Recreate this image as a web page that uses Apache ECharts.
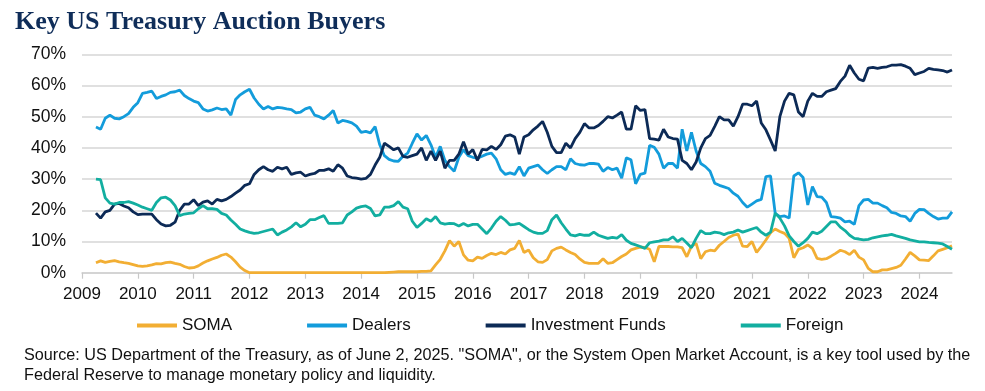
<!DOCTYPE html>
<html>
<head>
<meta charset="utf-8">
<script src="https://cdn.jsdelivr.net/npm/echarts@6/dist/echarts.min.js"></script>
<style>
html,body{margin:0;padding:0;background:#fff;}
#chart{width:985px;height:391px;}
</style>
</head>
<body>
<div id="chart"></div>
<script>
// Monthly observations, Apr 2009 .. Aug 2024
const startYear = 2009, startMonth = 4; // April 2009
const yearTicks = [2009,2010,2011,2012,2013,2014,2015,2016,2017,2018,2019,2020,2021,2022,2023,2024];
const yTicks = [0,10,20,30,40,50,60,70];
const seriesNames = ['SOMA','Dealers','Investment Funds','Foreign'];

const soma = [
  3.2,3.8,3.3,3.6,3.9,3.5,3.2,3.0,2.6,
  2.2,2.0,2.2,2.5,2.9,2.8,3.2,3.4,3.0,2.7,2.0,1.5,
  1.6,2.2,3.1,3.8,4.4,4.9,5.6,6.0,5.0,3.5,1.8,0.7,
  0,0,0,0,0,0,0,0,0,0,0,0,
  0,0,0,0,0,0,0,0,0,0,0,0,
  0,0,0,0,0,0,0.1,0.2,0.3,0.3,0.3,0.3,
  0.3,0.4,0.4,0.6,2.5,4.3,7.0,10.3,8.5,10.0,5.7,4.0,
  3.8,5.0,4.6,5.5,6.2,5.8,6.5,6.0,7.3,7.8,10.3,6.5,
  7.3,4.8,3.5,3.3,4.2,7.0,7.8,8.2,7.3,6.5,5.8,4.4,
  3.3,3.0,3.0,3.0,4.5,3.0,3.2,4.2,5.2,6.0,7.3,7.8,
  8.2,8.1,7.5,3.5,8.4,8.4,8.4,8.3,8.3,8.0,5.1,8.5,
  9.4,4.5,6.7,7.2,7.0,8.8,10.0,11.3,12.0,12.4,8.5,8.4,
  10.0,6.5,8.4,10.5,12.8,14.0,13.2,12.6,11.0,4.8,7.5,8.0,
  8.9,7.8,4.6,4.3,4.5,5.3,6.2,7.2,6.7,5.8,7.2,5.0,
  4.1,1.4,0.3,0.3,0.9,0.9,1.3,1.7,2.4,4.4,6.5,5.4,
  4.1,4.0,3.9,5.4,7.0,7.5,8.0,8.6
];

const dealers = [
  46.7,46.0,49.5,50.5,49.5,49.3,50.0,51.0,53.0,
  54.5,57.5,57.8,58.2,55.8,56.5,57.0,57.8,58.0,58.5,56.8,55.8,
  55.0,54.5,52.5,51.8,52.2,52.8,52.3,52.5,50.5,55.5,57.0,58.0,
  58.8,56.0,54.0,52.5,53.3,52.5,53.0,52.8,52.5,52.3,51.2,51.5,
  52.5,53.0,50.5,50.0,49.3,50.5,52.0,48.0,48.8,48.5,48.0,47.0,
  45.0,45.3,44.8,46.8,41.0,37.5,36.3,35.8,35.7,37.3,38.3,41.5,
  44.5,42.5,44.0,41.0,37.0,40.5,36.0,34.0,32.5,37.0,39.4,37.5,
  37.0,36.7,37.3,38.0,38.3,36.5,33.0,31.5,32.0,31.5,34.0,31.0,
  33.5,34.0,34.5,33.0,31.8,33.0,34.0,34.0,33.0,36.5,35.0,34.6,
  34.5,35.0,35.0,34.8,32.5,33.7,33.0,33.5,30.3,36.8,36.2,28.5,
  31.5,31.9,40.8,40.2,38.0,33.5,35.0,35.0,33.5,46.0,39.0,45.0,
  39.0,35.0,34.0,32.5,28.7,28.0,27.5,27.0,25.5,24.5,22.5,21.0,
  22.0,23.0,23.5,30.8,31.0,19.0,18.0,18.2,17.5,31.0,32.0,30.5,
  21.7,27.6,24.4,24.2,22.5,18.0,17.8,17.5,16.3,16.5,15.5,21.5,
  23.3,23.5,22.3,22.3,21.5,20.8,19.3,19.0,18.2,18.0,16.5,19.0,
  20.3,20.2,19.0,18.0,17.2,17.5,17.5,19.5
];

const investmentFunds = [
  19.1,17.5,19.5,20.0,22.0,22.2,21.4,20.8,19.5,
  18.6,18.8,18.8,18.8,17.0,15.6,15.0,15.2,16.2,20.0,22.0,22.0,
  23.4,21.5,22.6,23.0,22.0,23.5,23.0,23.5,24.4,25.5,26.5,28.0,
  28.5,31.5,33.0,34.0,33.0,32.5,33.8,33.3,33.8,31.5,32.0,32.2,
  31.0,31.5,31.8,32.8,32.8,33.3,32.5,34.6,33.5,31.0,30.5,30.3,
  30.0,30.2,31.5,34.5,37.0,41.5,40.5,39.4,40.0,37.3,37.0,37.5,
  38.0,40.0,36.0,39.0,36.0,39.0,33.5,36.0,36.0,38.0,42.0,38.0,
  39.5,36.0,39.5,39.4,40.5,39.5,41.0,43.8,44.2,43.5,38.0,43.5,
  44.2,45.8,47.0,48.5,45.0,40.5,38.5,38.5,41.5,40.0,43.0,45.0,
  47.8,46.4,46.4,47.2,48.5,50.0,49.6,50.5,51.5,46.0,46.0,53.5,
  52.0,52.3,43.0,42.8,42.5,46.0,43.5,43.0,42.8,36.0,35.0,33.0,
  35.5,40.0,43.0,44.0,46.9,50.0,49.0,49.0,47.0,50.0,54.0,54.0,
  53.5,55.0,48.0,45.8,42.5,39.0,50.0,55.0,57.5,57.0,51.5,50.0,
  55.0,57.5,56.5,56.5,58.0,58.5,59.0,61.3,63.0,66.5,64.0,62.0,
  61.5,65.6,65.8,65.5,65.8,66.0,66.5,66.5,66.7,66.2,65.5,63.5,
  64.0,64.5,65.5,65.2,65.0,64.8,64.3,65.0
];

const foreign = [
  30.0,29.8,24.0,22.3,22.0,22.5,22.5,22.8,22.3,
  21.7,21.0,20.5,20.0,22.5,24.0,24.2,23.3,21.5,18.3,18.8,19.0,
  19.2,20.5,21.5,20.5,20.5,20.3,19.0,18.5,16.9,15.5,14.0,13.4,
  12.9,12.6,12.8,13.2,13.6,14.0,12.1,13.0,13.7,14.7,16.0,14.7,
  15.5,17.0,17.0,17.7,18.3,15.8,15.8,15.8,16.0,18.5,19.5,20.7,
  21.2,21.4,20.6,18.2,18.5,21.0,21.0,21.5,22.8,21.0,20.5,16.5,
  14.5,15.8,17.3,16.5,18.0,16.0,15.6,15.8,15.7,15.0,15.8,15.0,
  15.5,15.5,14.0,12.5,14.3,16.5,18.0,16.8,15.3,15.5,15.8,14.8,
  13.8,13.0,12.6,12.6,13.5,17.0,18.5,16.0,14.0,12.1,11.8,12.3,
  12.0,12.0,13.0,12.0,11.5,11.0,11.3,11.1,12.2,10.4,9.4,8.9,
  8.4,7.8,9.6,9.9,10.1,10.5,10.5,11.5,10.0,11.0,9.5,8.0,
  11.0,13.5,12.5,12.5,13.0,12.8,12.2,12.8,13.0,13.7,13.0,13.5,
  14.0,14.5,13.0,12.0,13.0,19.1,17.5,15.0,11.8,10.0,8.5,9.6,
  11.0,13.0,12.5,13.3,14.8,16.3,16.3,14.6,13.5,12.0,11.0,10.8,
  10.5,10.7,11.2,11.5,11.8,12.0,12.3,11.8,11.4,11.0,10.5,10.2,
  9.9,9.9,9.7,9.6,9.5,9.2,8.4,7.5
];

const colors = ['#F2AE33','#139CDB','#0C2A56','#12AEA0'];
const sourceText = 'Source: US Department of the Treasury, as of June 2, 2025. "SOMA", or the System Open Market Account, is a key tool used by the\nFederal Reserve to manage monetary policy and liquidity.';

function toPairs(arr){
  return arr.map(function(v,i){
    const m = startMonth - 1 + i;
    return [startYear + m/12, v];
  });
}
const lastX = startYear + (startMonth - 1 + soma.length - 1)/12;

const chart = echarts.init(document.getElementById('chart'), null, {renderer:'canvas'});
const allData = [soma, dealers, investmentFunds, foreign];

chart.setOption({
  animation:false,
  backgroundColor:'#ffffff',
  color: colors,
  title:{
    text:'Key US Treasury Auction Buyers',
    left:15, top:9, padding:0,
    textStyle:{fontFamily:'Liberation Serif', fontWeight:'bold', fontSize:26, color:'#0F2D59'}
  },
  legend:{
    data: seriesNames,
    left:137, top:317, padding:0,
    itemWidth:40, itemHeight:4, itemGap:75,
    icon:'rect',
    textStyle:{fontFamily:'Liberation Sans', fontSize:17, color:'#111'}
  },
  grid:{left:82, right:33, top:54.3, height:218.4, containLabel:false},
  xAxis:{
    type:'value', min:startYear, max:lastX,
    axisLine:{show:true, lineStyle:{color:'#d0d0d0', width:1.5}},
    axisTick:{show:true, length:6, lineStyle:{color:'#c8c8c8', width:1.2}, customValues: yearTicks},
    axisLabel:{fontFamily:'Liberation Sans', fontSize:17, color:'#111', margin:13, customValues: yearTicks,
      formatter:function(v){return String(Math.round(v));}},
    splitLine:{show:false}
  },
  yAxis:{
    type:'value', min:0, max:70, interval:10,
    axisLine:{show:false}, axisTick:{show:false},
    axisLabel:{fontFamily:'Liberation Sans', fontSize:17.5, color:'#111', margin:16, formatter:'{value}%'},
    splitLine:{lineStyle:{color:'#d6d6d6', width:1.5}}
  },
  graphic:[{
    type:'text', left:24, top:346,
    style:{text:sourceText, font:'16.2px "Liberation Sans"', fill:'#111', lineHeight:20}
  }],
  series: seriesNames.map(function(n,i){
    return {
      name:n, type:'line', data: toPairs(allData[i]),
      showSymbol:false, symbol:'none',
      lineStyle:{width:2.8, color:colors[i]},
      itemStyle:{color:colors[i]}
    };
  })
});
</script>
</body>
</html>
